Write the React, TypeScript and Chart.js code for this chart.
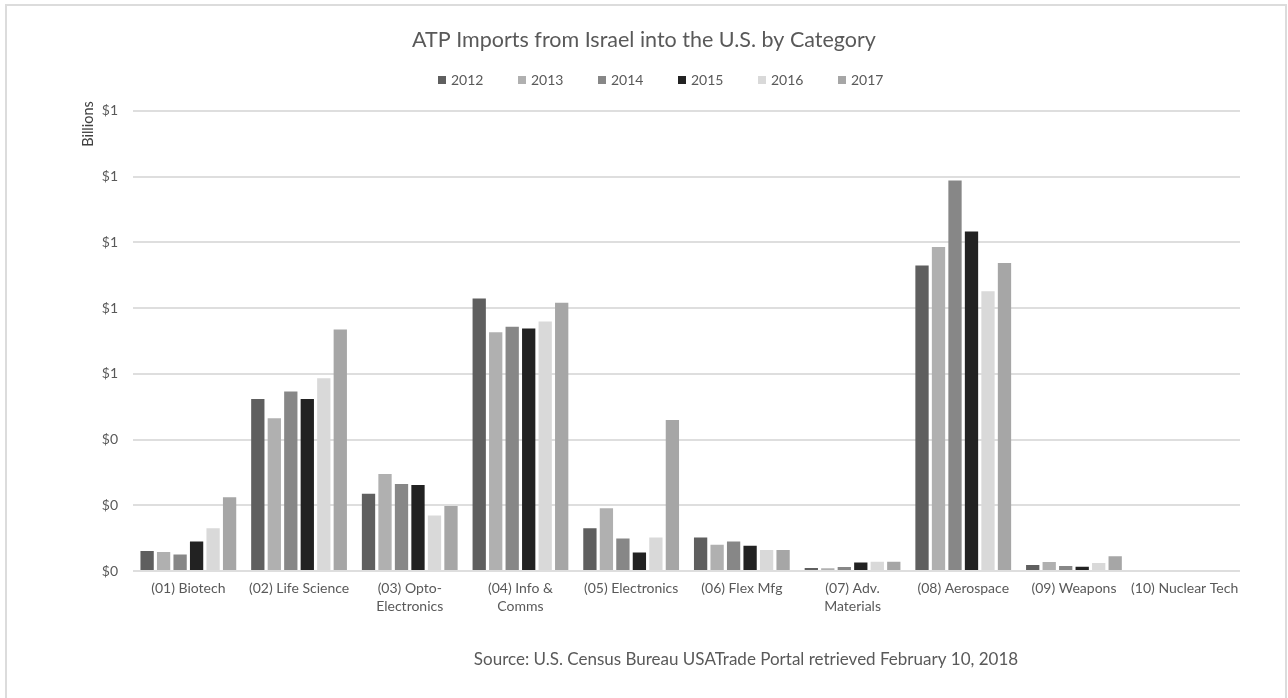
import React, { useEffect, useRef } from "react";
import { Chart, registerables } from "chart.js";

Chart.register(...registerables);

const categories: (string | string[])[] = [
  "(01) Biotech",
  "(02) Life Science",
  ["(03) Opto-", "Electronics"],
  ["(04) Info &", "Comms"],
  "(05) Electronics",
  "(06) Flex Mfg",
  ["(07) Adv.", "Materials"],
  "(08) Aerospace",
  "(09) Weapons",
  "(10) Nuclear Tech",
];

const years = ["2012", "2013", "2014", "2015", "2016", "2017"];

const v2012 = [0.061, 0.523, 0.235, 0.829, 0.130, 0.102, 0.009, 0.929, 0.018, 0];
const v2013 = [0.058, 0.465, 0.295, 0.726, 0.191, 0.080, 0.008, 0.986, 0.027, 0];
const v2014 = [0.050, 0.546, 0.265, 0.743, 0.099, 0.090, 0.012, 1.188, 0.015, 0];
const v2015 = [0.090, 0.523, 0.262, 0.738, 0.056, 0.077, 0.026, 1.033, 0.013, 0];
const v2016 = [0.130, 0.586, 0.169, 0.759, 0.102, 0.064, 0.028, 0.851, 0.024, 0];
const v2017 = [0.224, 0.735, 0.198, 0.816, 0.459, 0.064, 0.028, 0.937, 0.045, 0];

const seriesValues = [v2012, v2013, v2014, v2015, v2016, v2017];
const seriesColors = ["#5f5f5f", "#b0b0b0", "#878787", "#222222", "#d9d9d9", "#a6a6a6"];

const yMin = 0;
const yMax = 1.4;
const yStep = 0.2;

const titleText = "ATP Imports from Israel into the U.S. by Category";
const yAxisTitle = "Billions";
const sourceText = "Source: U.S. Census Bureau USATrade Portal retrieved February 10, 2018";

const FONT = "Lato, 'Open Sans', sans-serif";
const TEXT_COLOR = "#595959";

const decorPlugin = {
  id: "decor",
  afterDraw(chart: any) {
    const ctx = chart.ctx as CanvasRenderingContext2D;
    ctx.save();
    // frame
    ctx.strokeStyle = "#dcdcdc";
    ctx.lineWidth = 2;
    ctx.strokeRect(6, 5, 1280, 700);

    // legend
    ctx.font = `14px ${FONT}`;
    ctx.textBaseline = "middle";
    ctx.textAlign = "left";
    const ly = 80;
    chart.data.datasets.forEach((ds: any, i: number) => {
      const bx = 438 + 80 * i;
      ctx.fillStyle = ds.backgroundColor;
      ctx.fillRect(bx, ly - 4, 8, 8);
      ctx.fillStyle = TEXT_COLOR;
      ctx.fillText(ds.label, bx + 13, ly + 0.5);
    });

    // y axis title
    ctx.save();
    ctx.translate(88, 124);
    ctx.rotate(-Math.PI / 2);
    ctx.font = `14.5px ${FONT}`;
    ctx.fillStyle = "#404040";
    ctx.textAlign = "center";
    ctx.textBaseline = "middle";
    ctx.fillText(yAxisTitle, 0, 0);
    ctx.restore();

    // source
    ctx.font = `17px ${FONT}`;
    ctx.fillStyle = TEXT_COLOR;
    ctx.textAlign = "center";
    ctx.textBaseline = "middle";
    ctx.fillText(sourceText, 746, 660);
    ctx.restore();
  },
};

export default function App() {
  const ref = useRef<HTMLCanvasElement | null>(null);

  useEffect(() => {
    if (!ref.current) return;
    const chart = new Chart(ref.current, {
      type: "bar",
      data: {
        labels: categories,
        datasets: years.map((y, i) => ({
          label: y,
          data: seriesValues[i],
          backgroundColor: seriesColors[i],
          borderWidth: 0,
          categoryPercentage: 0.894,
          barPercentage: 0.806,
        })),
      },
      options: {
        responsive: false,
        animation: false,
        layout: { padding: { top: 9, left: 0, right: 0, bottom: 77 } },
        plugins: {
          legend: { display: false },
          tooltip: { enabled: false },
          title: {
            display: true,
            text: titleText,
            color: TEXT_COLOR,
            font: { family: FONT, size: 21.5, weight: "normal" as any, lineHeight: 1.2 },
            padding: { top: 18, bottom: 58 },
          },
        },
        scales: {
          x: {
            grid: { display: false, drawTicks: false },
            border: { display: false },
            ticks: {
              color: TEXT_COLOR,
              font: { family: FONT, size: 14, lineHeight: 1.3 },
              padding: 8,
              maxRotation: 0,
              autoSkip: false,
            },
            afterFit: (s: any) => {
              s.height = 50;
            },
          },
          y: {
            min: yMin,
            max: yMax,
            grid: { color: "#dedede", lineWidth: 2, drawTicks: false },
            border: { display: false },
            ticks: {
              stepSize: yStep,
              color: TEXT_COLOR,
              font: { family: FONT, size: 14 },
              padding: 15,
              callback: (v: any) => "$" + Number(v).toFixed(0),
            },
            afterFit: (s: any) => {
              s.width = 133;
            },
          },
          yRight: {
            position: "right",
            display: true,
            grid: { display: false, drawTicks: false },
            border: { display: false },
            ticks: { display: false },
            afterFit: (s: any) => {
              s.width = 48;
            },
          },
        },
      },
      plugins: [decorPlugin],
    });
    return () => chart.destroy();
  }, []);

  return (
    <div style={{ position: "absolute", left: 0, top: 0, width: 1288, height: 698, background: "#fff" }}>
      <canvas ref={ref} width={1288} height={698} />
    </div>
  );
}
